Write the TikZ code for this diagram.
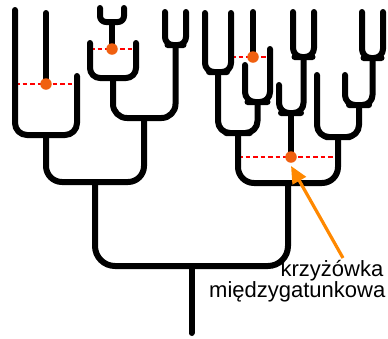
\documentclass[tikz,border=0pt]{standalone}
\usepackage{fontspec}
\setmainfont{Liberation Sans}
\usetikzlibrary{arrows.meta}
\definecolor{hybridred}{RGB}{255,0,0}
\definecolor{hybriddot}{RGB}{240,96,16}
\definecolor{pointer}{RGB}{255,136,0}
\tikzset{
  branch/.style={line width=6pt, line cap=round, line join=round, black},
  hybridline/.style={line width=2.6pt, hybridred, dash pattern=on 4.5pt off 3pt},
  hybriddotstyle/.style={circle, fill=hybriddot, inner sep=0pt, minimum size=11.5pt},
  pointerline/.style={line width=3.2pt, pointer, -{Triangle[length=17pt,width=15pt]}},
  labeltext/.style={font=\fontsize{22}{21}\selectfont, inner sep=0pt}
}
\begin{document}
\begin{tikzpicture}[x=1pt,y=-1pt]
\useasboundingbox (0,0) rectangle (388,338);

% ---- junctions (bottom centres of the forks) ----
\coordinate (u1) at (46,135);
\coordinate (y0) at (112,22);
\coordinate (u2) at (113,78);
\coordinate (y1) at (175.5,45);
\coordinate (u4) at (144,118);
\coordinate (u3) at (95,182);
\coordinate (yA) at (218,72);
\coordinate (uB) at (257.5,102);
\coordinate (uC) at (238,133);
\coordinate (yD) at (303.5,57);
\coordinate (uE) at (291,113);
\coordinate (yF) at (372.5,58);
\coordinate (uG) at (359,105);
\coordinate (uI) at (338,137);
\coordinate (uH) at (288,183);
\coordinate (root) at (191.5,266);
\coordinate (base) at (191.5,333);

% ---- hybrid origins ----
\coordinate (h1) at (46,84);
\coordinate (h2) at (112,49);
\coordinate (h3) at (253,57);
\coordinate (h4) at (291,157);

% ---- free tips ----
\coordinate (t1) at (15,10);
\coordinate (t2) at (46,13);
\coordinate (t3) at (77,76);
\coordinate (t4) at (100,8);
\coordinate (t5) at (124,8);
\coordinate (t6) at (90,43);
\coordinate (t7) at (136,43);
\coordinate (t8) at (165,12);
\coordinate (t9) at (186,12);
\coordinate (t10) at (205,13);
\coordinate (t11) at (231,13);
\coordinate (t12) at (253,12);
\coordinate (t13) at (245,65);
\coordinate (t14) at (270,49);
\coordinate (t15) at (293,12);
\coordinate (t16) at (314,12);
\coordinate (t17) at (279,85);
\coordinate (t18) at (362,12);
\coordinate (t19) at (383,12);
\coordinate (t20) at (345,75);
\coordinate (t21) at (317,75);

% ---- hybridisation lines between parent lineages ----
\draw[hybridline] (t1 |- h1) -- (t3 |- h1);
\draw[hybridline] (t6 |- h2) -- (t7 |- h2);
\draw[hybridline] (t11 |- h3) -- (t14 |- h3);
\draw[hybridline] (uC |- h4) -- (uI |- h4);

% ---- small forks ----
\draw[branch, rounded corners=6pt] (t4) |- (y0) -| (t5);
\draw[branch, rounded corners=8pt] (t8) |- (y1) -| (t9);
\draw[branch, rounded corners=9pt] (t10) |- (yA) -| (t11);
\draw[branch, rounded corners=9pt] (t15) |- (yD) -| (t16);
\draw[branch, rounded corners=9pt] (t18) |- (yF) -| (t19);

% ---- hybrid lineages ----
\draw[branch] (t2) -- (h1);
\draw[branch] (y0) -- (h2);
\draw[branch] (t12) -- (h3);
\draw[branch] (uE) -- (h4);

% ---- larger forks ----
\draw[branch, rounded corners=12pt] (t1) |- (u1) -| (t3);
\draw[branch, rounded corners=10pt] (t6) |- (u2) -| (t7);
\draw[branch, rounded corners=14pt] (u2) |- (u4) -| (y1);
\draw[branch, rounded corners=16pt] (u1) |- (u3) -| (u4);
\draw[branch, rounded corners=10pt] (t13) |- (uB) -| (t14);
\draw[branch, rounded corners=12pt] (yA) |- (uC) -| (uB);
\draw[branch, rounded corners=10pt] (t17) |- (uE) -| (yD);
\draw[branch, rounded corners=10pt] (t20) |- (uG) -| (yF);
\draw[branch, rounded corners=12pt] (t21) |- (uI) -| (uG);
\draw[branch, rounded corners=16pt] (uC) |- (uH) -| (uI);
\draw[branch, rounded corners=20pt] (u3) |- (root) -| (uH);
\draw[branch] (root) -- (base);

% ---- hybrid origin marks ----
\foreach \h in {h1,h2,h3,h4} \node[hybriddotstyle] (dot-\h) at (\h) {};

% ---- label and pointer ----
\node[labeltext, anchor=base east] (lab1) at (383.5,276) {krzyżówka};
\node[labeltext, anchor=base east] (lab2) at (385.5,297) {międzygatunkowa};
\coordinate (ptrstart) at (343,258);
\draw[pointerline] (ptrstart) -- ([yshift=-3pt]dot-h4.south);
\end{tikzpicture}
\end{document}
